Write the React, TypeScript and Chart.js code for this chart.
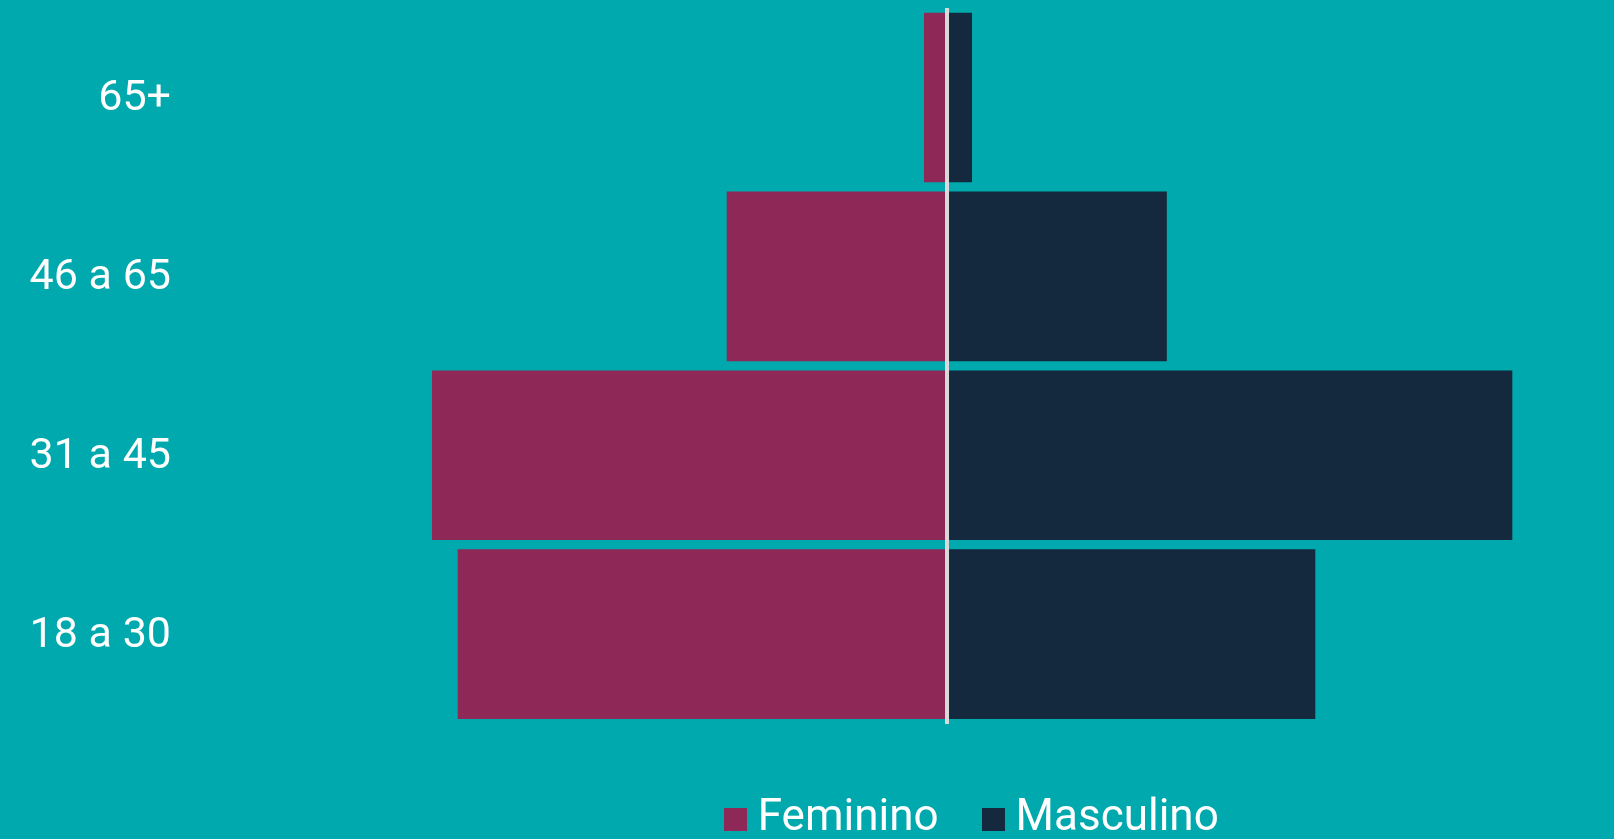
import React, { useEffect, useRef } from 'react';
import { Chart, registerables } from 'chart.js';

Chart.register(...registerables);

// Data (percent of respondents)
const categories = ['65+', '46 a 65', '31 a 45', '18 a 30'];
const feminino = [0.95, 9.08, 21.23, 20.17];
const masculino = [1.03, 9.06, 23.3, 15.18];
const seriesLabels = ['Feminino', 'Masculino'];
const xMin = -25;
const xMax = 27.45;

const BG = '#00A9AD';
const FEM = '#8E2957';
const MASC = '#14293D';

function makeSwatch(color: string, size: number): HTMLCanvasElement {
  const c = document.createElement('canvas');
  c.width = size;
  c.height = size;
  const g = c.getContext('2d');
  if (g) {
    g.fillStyle = color;
    g.fillRect(0, 0, size, size);
  }
  return c;
}

export default function App() {
  const canvasRef = useRef<HTMLCanvasElement | null>(null);

  useEffect(() => {
    document.body.style.margin = '0';
    document.body.style.background = BG;
    document.body.style.overflow = 'hidden';
    const canvas = canvasRef.current;
    if (!canvas) return;
    const swatches = [makeSwatch(FEM, 23), makeSwatch(MASC, 23)];
    const chart = new Chart(canvas, {
      type: 'bar',
      data: {
        labels: categories,
        datasets: [
          {
            label: seriesLabels[0],
            data: feminino.map((v) => -v),
            backgroundColor: FEM,
            borderWidth: 0,
            barPercentage: 0.948,
            categoryPercentage: 1,
          },
          {
            label: seriesLabels[1],
            data: masculino,
            backgroundColor: MASC,
            borderWidth: 0,
            barPercentage: 0.948,
            categoryPercentage: 1,
          },
        ],
      },
      options: {
        indexAxis: 'y',
        responsive: false,
        animation: false,
        layout: { padding: { top: 8, right: 1, bottom: -12, left: 0 } },
        scales: {
          x: {
            stacked: true,
            min: xMin,
            max: xMax,
            z: 1,
            ticks: { display: false, stepSize: 5 },
            border: { display: false },
            grid: {
              drawTicks: false,
              lineWidth: 4,
              color: (ctx: any) => (ctx.tick && ctx.tick.value === 0 ? '#D9D9D9' : 'rgba(0,0,0,0)'),
            },
            afterFit: (scale: any) => {
              scale.height = 19.4;
              scale.paddingLeft = 0;
              scale.paddingRight = 0;
            },
          },
          y: {
            stacked: true,
            border: { display: false },
            grid: { display: false, drawTicks: false },
            ticks: {
              color: '#FFFFFF',
              padding: 169.5,
              labelOffset: 2,
              font: { family: 'Roboto', size: 43 },
            },
            afterFit: (scale: any) => {
              scale.width = 340.5;
              scale.paddingTop = 0;
              scale.paddingBottom = 0;
            },
          },
        },
        plugins: {
          tooltip: { enabled: false },
          legend: {
            position: 'bottom',
            fullSize: false,
            align: 'center',
            labels: {
              color: '#FFFFFF',
              usePointStyle: true,
              pointStyleWidth: 1,
              boxHeight: 23,
              padding: 54,
              font: { family: 'Roboto', size: 44 },
              generateLabels: (ch: any) => {
                const items = Chart.defaults.plugins.legend.labels.generateLabels(ch);
                items.forEach((it: any, i: number) => {
                  it.pointStyle = swatches[i % swatches.length];
                  it.lineWidth = 0;
                });
                return items;
              },
            },
          },
        },
      },
    });
    return () => chart.destroy();
  }, []);

  return (
    <div style={{ position: 'fixed', left: 0, top: 0, width: 1614, height: 839, background: BG }}>
      <canvas ref={canvasRef} width={1614} height={839} style={{ display: 'block' }} />
    </div>
  );
}
